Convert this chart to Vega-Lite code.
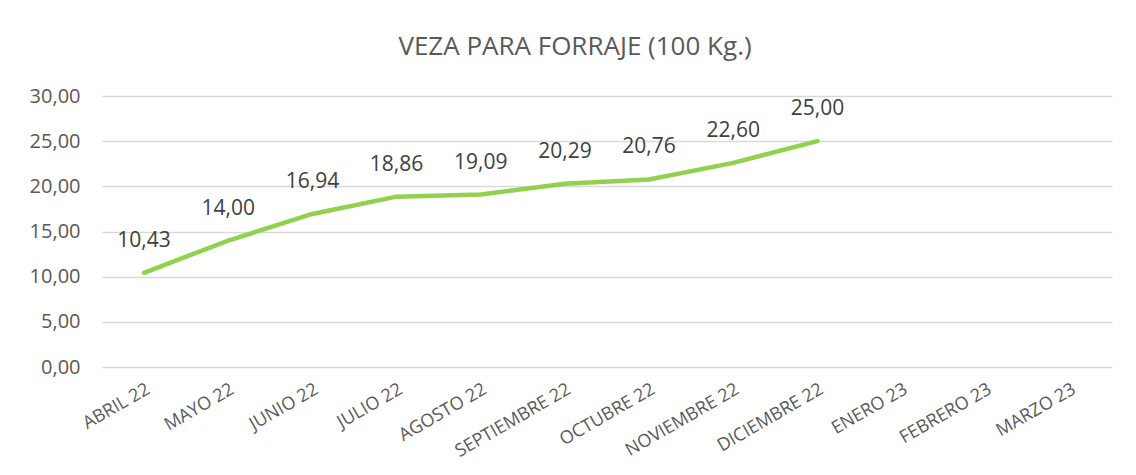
{
  "$schema": "https://vega.github.io/schema/vega-lite/v6.json",
  "width": 1010,
  "height": 271,
  "autosize": {"type": "none"},
  "padding": {"left": 102, "top": 96, "right": 24, "bottom": 108},
  "background": "white",
  "config": {
    "locale": {"number": {"decimal": ",", "thousands": ".", "grouping": [3], "currency": ["", " €"]}},
    "view": {"stroke": null},
    "font": "Open Sans"
  },
  "title": {
    "text": "VEZA PARA FORRAJE (100 Kg.)",
    "font": "Open Sans",
    "fontSize": 26,
    "fontWeight": "normal",
    "color": "#595959",
    "anchor": "middle",
    "dx": -32,
    "baseline": "alphabetic",
    "offset": 5
  },
  "data": {
    "values": [
      {"mes": "ABRIL 22", "precio": 10.43},
      {"mes": "MAYO 22", "precio": 14.00},
      {"mes": "JUNIO 22", "precio": 16.94},
      {"mes": "JULIO 22", "precio": 18.86},
      {"mes": "AGOSTO 22", "precio": 19.09},
      {"mes": "SEPTIEMBRE 22", "precio": 20.29},
      {"mes": "OCTUBRE 22", "precio": 20.76},
      {"mes": "NOVIEMBRE 22", "precio": 22.60},
      {"mes": "DICIEMBRE 22", "precio": 25.00},
      {"mes": "ENERO 23", "precio": null},
      {"mes": "FEBRERO 23", "precio": null},
      {"mes": "MARZO 23", "precio": null}
    ]
  },
  "encoding": {
    "x": {
      "field": "mes",
      "type": "ordinal",
      "sort": null,
      "scale": {"type": "band", "paddingInner": 0, "paddingOuter": 0},
      "axis": {
        "title": null,
        "labelAngle": -30,
        "labelFont": "Open Sans",
        "labelFontSize": 18,
        "labelColor": "#595959",
        "labelPadding": 13,
        "ticks": false,
        "domain": false,
        "grid": false
      }
    },
    "y": {
      "field": "precio",
      "type": "quantitative",
      "scale": {"domain": [0, 30], "nice": false, "zero": true},
      "axis": {
        "title": null,
        "values": [0, 5, 10, 15, 20, 25, 30],
        "format": ".2f",
        "labelFont": "Open Sans",
        "labelFontSize": 20,
        "labelColor": "#595959",
        "labelPadding": 22,
        "ticks": false,
        "domain": false,
        "grid": true,
        "gridColor": "#D9D9D9",
        "gridWidth": 1.3
      }
    }
  },
  "layer": [
    {
      "mark": {"type": "line", "color": "#92D050", "strokeWidth": 4.5, "strokeCap": "round", "strokeJoin": "round"}
    },
    {
      "transform": [{"filter": "datum.precio != null"}],
      "mark": {"type": "text", "dy": -32, "font": "Open Sans", "fontSize": 21, "color": "#404040", "baseline": "middle", "align": "center"},
      "encoding": {
        "text": {"field": "precio", "type": "quantitative", "format": ".2f"}
      }
    }
  ]
}
